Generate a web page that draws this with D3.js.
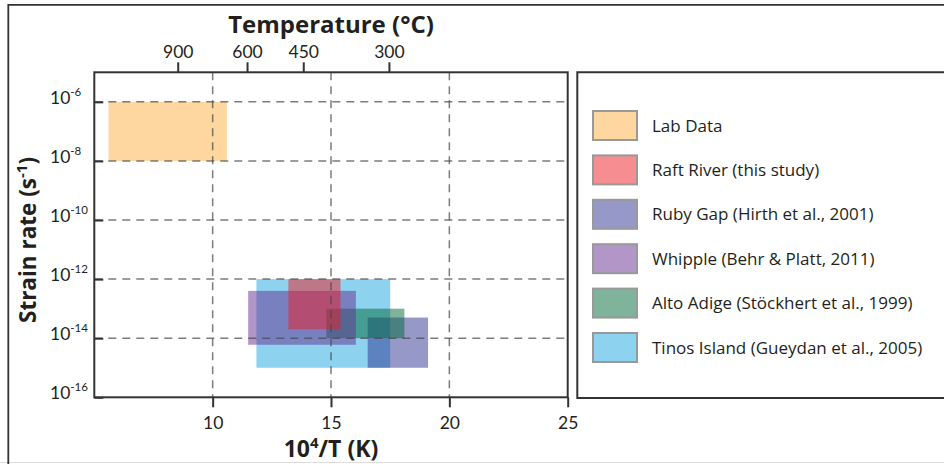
<!DOCTYPE html>
<html>
<head>
<meta charset="utf-8">
<script src="https://cdn.jsdelivr.net/npm/d3@7"></script>
<style>
  html, body { margin: 0; padding: 0; background: #fff; }
  svg { display: block; font-family: Lato, "Open Sans", sans-serif; }
  .tick text { font-family: Lato, "Open Sans", sans-serif; }
  .title, .legend-label { font-family: "Open Sans", Lato, sans-serif; }
</style>
</head>
<body>
<svg id="chart" width="944" height="464"></svg>
<script>
// ---- data -------------------------------------------------------------
// Sites, in legend order
const sites = [
  "Lab Data",
  "Raft River (this study)",
  "Ruby Gap (Hirth et al., 2001)",
  "Whipple (Behr & Platt, 2011)",
  "Alto Adige (Stöckhert et al., 1999)",
  "Tinos Island (Gueydan et al., 2005)"
];
// 10^4/T (K) range of each site
const invTMin = [5.6, 13.2, 16.55, 11.5, 14.8, 11.85];
const invTMax = [10.6, 15.4, 19.1, 16.05, 18.1, 17.5];
// strain-rate range of each site (s^-1)
const rateMin = [1e-8, 2e-14, 1e-15, 6e-15, 1e-14, 1e-15];
const rateMax = [1e-6, 1e-12, 5e-14, 4e-13, 1e-13, 1e-12];
// stacking order of the boxes (bottom first)
const drawOrder = [0, 5, 2, 4, 3, 1];

// axis ticks
const invTTicks = [10, 15, 20, 25];
const rateExponents = [-6, -8, -10, -12, -14, -16];
const tempTicks = [900, 600, 450, 300];
const invTGrid = [10, 15, 20];
const rateGrid = [1e-6, 1e-8, 1e-10, 1e-12, 1e-14];

// ---- styles -----------------------------------------------------------
const siteColors = ["#FBB040", "#ED1C24", "#2E3192", "#662D91", "#006837", "#1CA6DF"];
const boxOpacity = 0.5;
const ink = "#231F20";

// ---- layout -----------------------------------------------------------
const svg = d3.select("#chart");
const plot = { left: 94.3, right: 567.7, top: 72.3, bottom: 397.3 };

const x = d3.scaleLinear().domain([5, 25]).range([plot.left, plot.right]);
const y = d3.scaleLog().domain([1e-16, 1e-5]).range([plot.bottom, plot.top]);
const celsiusToInvT = c => 1e4 / (c + 273.15);

// figure frame (open to the right and bottom)
svg.append("line").attr("x1", 0).attr("x2", 944).attr("y1", 462.5).attr("y2", 462.5)
  .attr("stroke", "#dcdcdc").attr("stroke-width", 1.2);
svg.append("path")
  .attr("d", `M8.3,464 V4.8 H944`)
  .attr("fill", "none").attr("stroke", "#333").attr("stroke-width", 1.8);

// data boxes
svg.append("g").selectAll("rect")
  .data(drawOrder)
  .join("rect")
  .attr("x", i => x(invTMin[i]))
  .attr("width", i => x(invTMax[i]) - x(invTMin[i]))
  .attr("y", i => y(rateMax[i]))
  .attr("height", i => y(rateMin[i]) - y(rateMax[i]))
  .attr("fill", i => siteColors[i])
  .attr("fill-opacity", boxOpacity);

// dashed grid, drawn over the boxes
const grid = svg.append("g")
  .attr("stroke", "#4a4a4a").attr("stroke-opacity", 0.72)
  .attr("stroke-width", 1.5).attr("stroke-dasharray", "8,6");
grid.selectAll("line.v").data(invTGrid).join("line").attr("class", "v")
  .attr("x1", d => x(d)).attr("x2", d => x(d))
  .attr("y1", plot.top).attr("y2", plot.bottom);
grid.selectAll("line.h").data(rateGrid).join("line").attr("class", "h")
  .attr("x1", plot.left).attr("x2", plot.right)
  .attr("y1", d => y(d)).attr("y2", d => y(d));

// bottom axis: 10^4/T
const xAxis = svg.append("g")
  .attr("transform", `translate(0,${plot.bottom})`)
  .call(d3.axisBottom(x).tickValues(invTTicks).tickSize(10).tickPadding(9).tickFormat(d3.format("d")));

// top axis: temperature in °C
const tAxis = svg.append("g")
  .attr("transform", `translate(0,${plot.top})`)
  .call(d3.axisTop(x).tickValues(tempTicks.map(celsiusToInvT)).tickSize(10).tickPadding(4)
    .tickFormat((d, i) => tempTicks[i]));

// left axis: strain rate, ticks pointing inward
const yAxis = svg.append("g")
  .attr("transform", `translate(${plot.left},0)`)
  .call(d3.axisLeft(y).tickValues(rateExponents.map(e => Math.pow(10, e))).tickSize(-9).tickFormat(""));

[xAxis, tAxis, yAxis].forEach(g => {
  g.select(".domain").remove();
  g.selectAll(".tick line").attr("stroke", "#333").attr("stroke-width", 2);
  g.selectAll(".tick text").attr("fill", ink).attr("font-size", 17.5);
});

yAxis.selectAll(".tick").each(function (d) {
  const t = d3.select(this).select("text")
    .attr("x", 50 - plot.left).attr("dy", null).attr("y", 1.5)
    .attr("text-anchor", "start").attr("fill", ink).attr("font-size", 17.5)
    .text("10");
  t.append("tspan").attr("font-size", 11.5).attr("dy", -8)
    .text("-" + Math.round(-Math.log10(d)));
});

// plot frame
svg.append("rect")
  .attr("x", plot.left).attr("y", plot.top)
  .attr("width", plot.right - plot.left).attr("height", plot.bottom - plot.top)
  .attr("fill", "none").attr("stroke", "#333").attr("stroke-width", 2);

// axis titles
svg.append("text").attr("class", "title")
  .attr("x", (plot.left + plot.right) / 2).attr("y", 33)
  .attr("text-anchor", "middle").attr("font-weight", "bold").attr("font-size", 24)
  .attr("fill", ink).text("Temperature (°C)");

const xt = svg.append("text").attr("class", "title")
  .attr("x", (plot.left + plot.right) / 2).attr("y", 456.5)
  .attr("text-anchor", "middle").attr("font-weight", "bold").attr("font-size", 23)
  .attr("fill", ink);
xt.append("tspan").text("10");
xt.append("tspan").attr("font-size", 15).attr("dy", -9).text("4");
xt.append("tspan").attr("dy", 9).text("/T (K)");

const yt = svg.append("text").attr("class", "title")
  .attr("transform", "translate(36,240) rotate(-90)")
  .attr("text-anchor", "middle").attr("font-weight", "bold").attr("font-size", 22.5)
  .attr("fill", ink);
yt.append("tspan").text("Strain rate (s");
yt.append("tspan").attr("font-size", 15).attr("dy", -9).text("-1");
yt.append("tspan").attr("dy", 9).text(")");

// legend
svg.append("path")
  .attr("d", `M944,72.3 H577.3 V398 H944`)
  .attr("fill", "none").attr("stroke", "#333").attr("stroke-width", 2);

const legendY = d3.scaleLinear().domain([0, sites.length - 1]).range([111, 333]);
const items = svg.append("g").selectAll("g")
  .data(sites)
  .join("g")
  .attr("transform", (d, i) => `translate(593,${legendY(i)})`);
items.append("rect")
  .attr("width", 44).attr("height", 29)
  .attr("fill", (d, i) => siteColors[i]).attr("fill-opacity", boxOpacity)
  .attr("stroke", "#999").attr("stroke-width", 2);
items.append("text").attr("class", "legend-label")
  .attr("x", 59).attr("y", 20.5)
  .attr("font-size", 17).attr("fill", ink)
  .text(d => d);
</script>
</body>
</html>
